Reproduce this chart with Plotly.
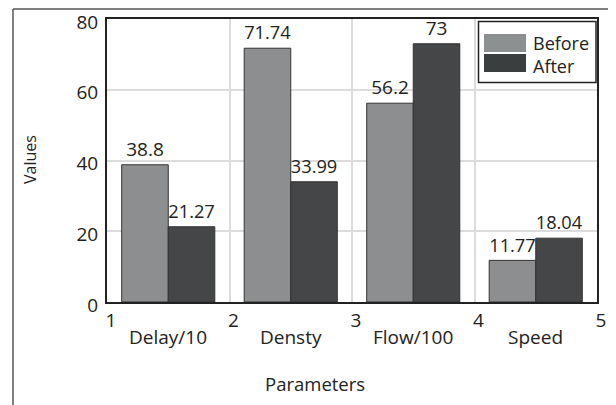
import plotly.graph_objects as go

categories = ["Delay/10", "Densty", "Flow/100", "Speed"]
cat_pos = [1.5, 2.5, 3.5, 4.5]
before = [38.8, 71.74, 56.2, 11.77]
after = [21.27, 33.99, 73, 18.04]
before_labels = ["38.8", "71.74", "56.2", "11.77"]
after_labels = ["21.27", "33.99", "73", "18.04"]
x_ticks = [1, 2, 3, 4, 5]
y_ticks = [0, 20, 40, 60, 80]

FONT = "Open Sans, Liberation Sans, Arial, sans-serif"
C_BEFORE = "#8d8e90"
C_AFTER = "#454648"
TXT = "#222222"

# page body has an 8px margin; figure is sized so it ends at the window edge
OFF = 8
W, H = 616 - OFF, 405 - OFF
L, R, T, B = 107 - OFF, 616 - 597, 19 - OFF, 405 - 302
pw, ph = W - L - R, H - T - B
def px(x):
    return (x - OFF - L) / pw
def py(y):
    return (H - B - (y - OFF)) / ph

fig = go.Figure()
fig.add_trace(go.Bar(x=cat_pos, y=before, name="Before", marker=dict(color=C_BEFORE, line=dict(color="#333", width=1)),
                     text=before_labels, textposition="outside", textfont=dict(size=19, color=TXT, family=FONT),
                     cliponaxis=False))
fig.add_trace(go.Bar(x=cat_pos, y=after, name="After", marker=dict(color=C_AFTER, line=dict(color="#333", width=1)),
                     text=after_labels, textposition="outside", textfont=dict(size=19, color=TXT, family=FONT),
                     cliponaxis=False))

fig.update_layout(
    width=W, height=H,
    margin=dict(l=L, r=R, t=T, b=B, autoexpand=False),
    paper_bgcolor="white", plot_bgcolor="white",
    barmode="group", bargap=0.24, bargroupgap=0,
    showlegend=False,
    font=dict(family=FONT, size=19, color=TXT),
    xaxis=dict(range=[1, 5], tickvals=x_ticks, ticktext=[str(v) for v in x_ticks],
               showgrid=True, gridcolor="#dcdcdc", gridwidth=1.5,
               showline=True, linecolor="#222", linewidth=2, mirror=True,
               ticks="", zeroline=False, tickfont=dict(size=19), automargin=False,
               ticklabeloverflow="allow", ticklabelshift=4),
    yaxis=dict(range=[0, 80], tickvals=y_ticks, showgrid=True, gridcolor="#dcdcdc", gridwidth=1.5,
               showline=True, linecolor="#222", linewidth=2, mirror=True,
               ticks="", zeroline=False, tickfont=dict(size=19), ticklabelstandoff=3, automargin=False,
               ticklabeloverflow="allow", ticklabelshift=3),
)

annotations = []
for c, p in zip(categories, cat_pos):
    annotations.append(dict(x=p, y=py(337), xref="x", yref="paper", text=c, showarrow=False,
                            yanchor="middle", font=dict(size=19, color=TXT, family=FONT)))
annotations.append(dict(x=px(30), y=py(160), xref="paper", yref="paper", text="Values", showarrow=False,
                        textangle=-90, xanchor="center", yanchor="middle",
                        font=dict(size=16, color=TXT, family=FONT)))
annotations.append(dict(x=px(315), y=py(383), xref="paper", yref="paper", text="Parameters",
                        showarrow=False, xanchor="center", yanchor="middle",
                        font=dict(size=18.5, color=TXT, family=FONT)))
annotations.append(dict(x=px(531), y=py(54), xref="paper", yref="paper", text="Before<br>After", showarrow=False,
                        xanchor="left", yanchor="middle", align="left",
                        font=dict(size=18, color=TXT, family=FONT)))

shapes = [
    dict(type="line", xref="paper", yref="paper", x0=px(13), x1=px(616), y0=py(9), y1=py(9),
         line=dict(color="#555", width=1.5)),
    dict(type="line", xref="paper", yref="paper", x0=px(13), x1=px(13), y0=py(9), y1=py(405),
         line=dict(color="#555", width=1.5)),
    dict(type="rect", xref="paper", yref="paper", x0=px(478.5), x1=px(596), y0=py(21.5), y1=py(82.5),
         line=dict(color="#222", width=1.5), fillcolor="white"),
    dict(type="rect", xref="paper", yref="paper", x0=px(484), x1=px(526), y0=py(34), y1=py(52),
         line=dict(width=0), fillcolor="#8c9090"),
    dict(type="rect", xref="paper", yref="paper", x0=px(484), x1=px(526), y0=py(54), y1=py(72),
         line=dict(width=0), fillcolor="#3a3e3f"),
]
fig.update_layout(annotations=annotations, shapes=shapes)

fig.write_html("out.html")
